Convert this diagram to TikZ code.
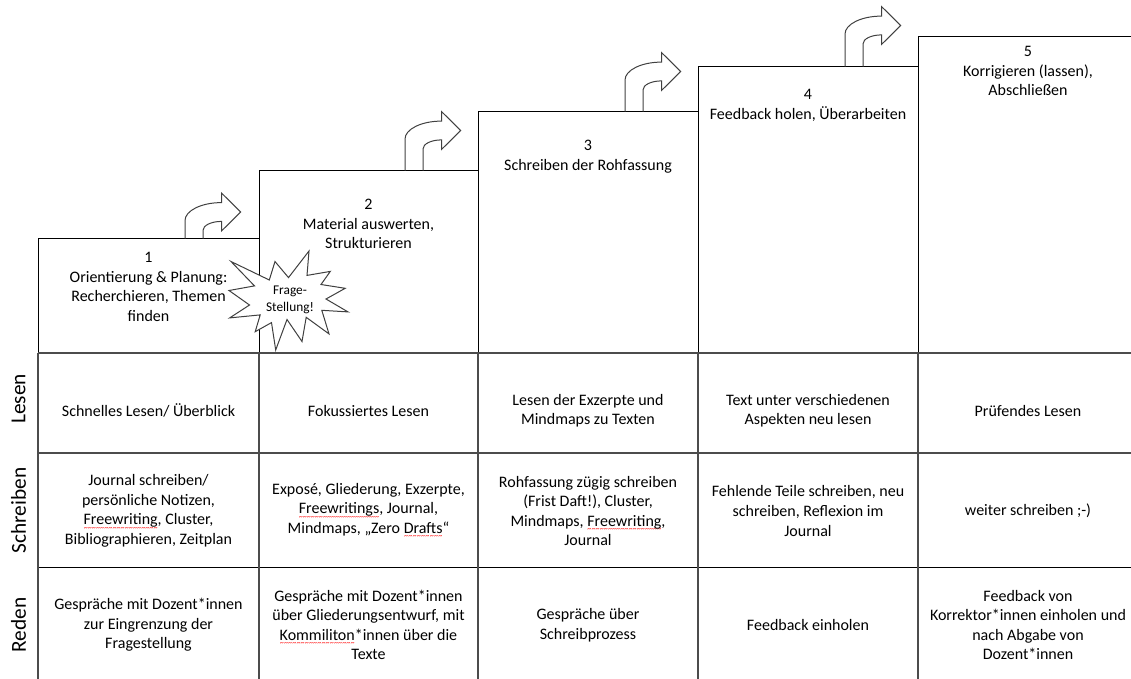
\documentclass[tikz,border=0pt]{standalone}
\usepackage{fontspec}
\setmainfont{Carlito}
\usetikzlibrary{calc}
\newcommand\spellmark[1]{\setbox0\hbox{#1}\rlap{\textcolor{red}{\lower4.2pt\hbox to\wd0{\xleaders\hbox{\fontsize{6}{6}\selectfont\char"7E}\hfill}}}\box0}

\tikzset{
  stepbox/.style={draw=black, line width=0.75pt},
  gridline/.style={draw=gray!60!black, line width=1pt},
  steptext/.style={anchor=north, align=center, inner sep=0pt, font=\fontsize{12}{14.65}\selectfont},
  celltext/.style={align=center, inner sep=0pt, font=\fontsize{12}{14.65}\selectfont},
  rowlabel/.style={rotate=90, inner sep=0pt, font=\fontsize{16}{19}\selectfont},
  bentarrow/.style={draw=black!75, line width=0.75pt, line join=miter},
  burst/.style={draw=black!75, fill=white, line width=0.75pt, line join=miter},
}

\begin{document}
\begin{tikzpicture}[x=0.75pt,y=-0.75pt]
            \useasboundingbox (0,0) rectangle (1131,678);
            \clip (0,0) rectangle (1131,678);
            \foreach \xa/\xb/\top in {38/259/238.5, 259/478/170.5, 478/698/111.5, 698/918/66.5, 918/1140/36}
                \draw[stepbox] (\xa,\top) rectangle (\xb,353);
            \foreach \y in {353,453}
                \draw[gridline] (38,\y) -- (1140,\y);
            \draw[black, line width=0.8pt] (38,567.5) -- (1140,567.5);
            \foreach \x in {38,259,478,698,918}
                \draw[gridline] (\x,353) -- (\x,690);
            \foreach \x/\b/\t in {185/238.5/212, 405/170.5/130.5, 625/111.5/71.5, 845/66.5/25.5}
                \draw[bentarrow] (\x,\b) -- (\x,\t+8.6) .. controls (\x,\t-1.3) and (\x+16.3,\t-9.4) .. (\x+36.5,\t-9.4)
                    -- (\x+36.5,\t-19) -- (\x+55.7,\t) -- (\x+36.5,\t+19) -- (\x+36.5,\t+9.4)
                    .. controls (\x+26.3,\t+9.4) and (\x+18,\t+13.4) .. (\x+18,\t+18.4) -- (\x+18,\b);
            \draw[burst] (288.5,277.6) -- (309,251) -- (307,275.4) -- (330.3,271.4) -- (321,284.5)
                -- (345.2,288.3) -- (326,299) -- (348,311.9) -- (321.8,310.3) -- (329,333.9)
                -- (306.2,317.3) -- (302,341.5) -- (287,319.5) -- (275.7,350) -- (271.5,322.6)
                -- (255.2,331.7) -- (260.2,314.9) -- (229.7,317.9) -- (249.5,305) -- (229,290.5)
                -- (254.5,285.9) -- (231,261.5) -- (269.3,280) -- (275,261.5) -- cycle;
            \node[steptext] (step1) at (148.5,252) {1\\Orientierung \& Planung:\\Recherchieren, Themen\\finden};
            \node[steptext] (step2) at (368.5,199) {2\\Material auswerten,\\Strukturieren};
            \node[steptext] (step3) at (588,140) {3\\Schreiben der Rohfassung};
            \node[steptext] (step4) at (808,89) {4\\Feedback holen, Überarbeiten};
            \node[steptext] (step5) at (1028,46) {5\\Korrigieren (lassen),\\Abschließen};
            \node[align=center, inner sep=0pt, font=\fontsize{10}{12.4}\selectfont] (frage) at (290,300) {Frage-\\Stellung!};
            \node[rowlabel] (lesen) at (18.5,399) {Lesen};
            \node[rowlabel] (schreiben) at (18.5,510.5) {Schreiben};
            \node[rowlabel] (reden) at (18.5,625) {Reden};
            \node[celltext] (lesen1) at (148.5,410.5) {Schnelles Lesen/ Überblick};
            \node[celltext] (lesen2) at (368.5,410.5) {Fokussiertes Lesen};
            \node[celltext] (lesen3) at (588,410.5) {Lesen der Exzerpte und\\Mindmaps zu Texten};
            \node[celltext] (lesen4) at (808,410.5) {Text unter verschiedenen\\Aspekten neu lesen};
            \node[celltext] (lesen5) at (1028,410.5) {Prüfendes Lesen};
            \node[celltext] (schreiben1) at (148.5,511) {Journal schreiben/\\persönliche Notizen,\\\spellmark{Freewriting}, Cluster,\\Bibliographieren, Zeitplan};
            \node[celltext] (schreiben2) at (368.5,511) {Exposé, Gliederung, Exzerpte,\\\spellmark{Freewritings}, Journal,\\Mindmaps, „Zero \spellmark{Drafts}“};
            \node[celltext] (schreiben3) at (588,511) {Rohfassung zügig schreiben\\(Frist Daft!), Cluster,\\Mindmaps, \spellmark{Freewriting},\\Journal};
            \node[celltext] (schreiben4) at (808,511) {Fehlende Teile schreiben, neu\\schreiben, Reflexion im\\Journal};
            \node[celltext] (schreiben5) at (1028,511) {weiter schreiben ;-)};
            \node[celltext] (reden1) at (148.5,625) {Gespräche mit Dozent*innen\\zur Eingrenzung der\\Fragestellung};
            \node[celltext] (reden2) at (368.5,625) {Gespräche mit Dozent*innen\\über Gliederungsentwurf, mit\\\spellmark{Kommiliton}*innen über die\\Texte};
            \node[celltext] (reden3) at (588,625) {Gespräche über\\Schreibprozess};
            \node[celltext] (reden4) at (808,625) {Feedback einholen};
            \node[celltext] (reden5) at (1028,625) {Feedback von\\Korrektor*innen einholen und\\nach Abgabe von\\Dozent*innen};
        \end{tikzpicture}
\end{document}
